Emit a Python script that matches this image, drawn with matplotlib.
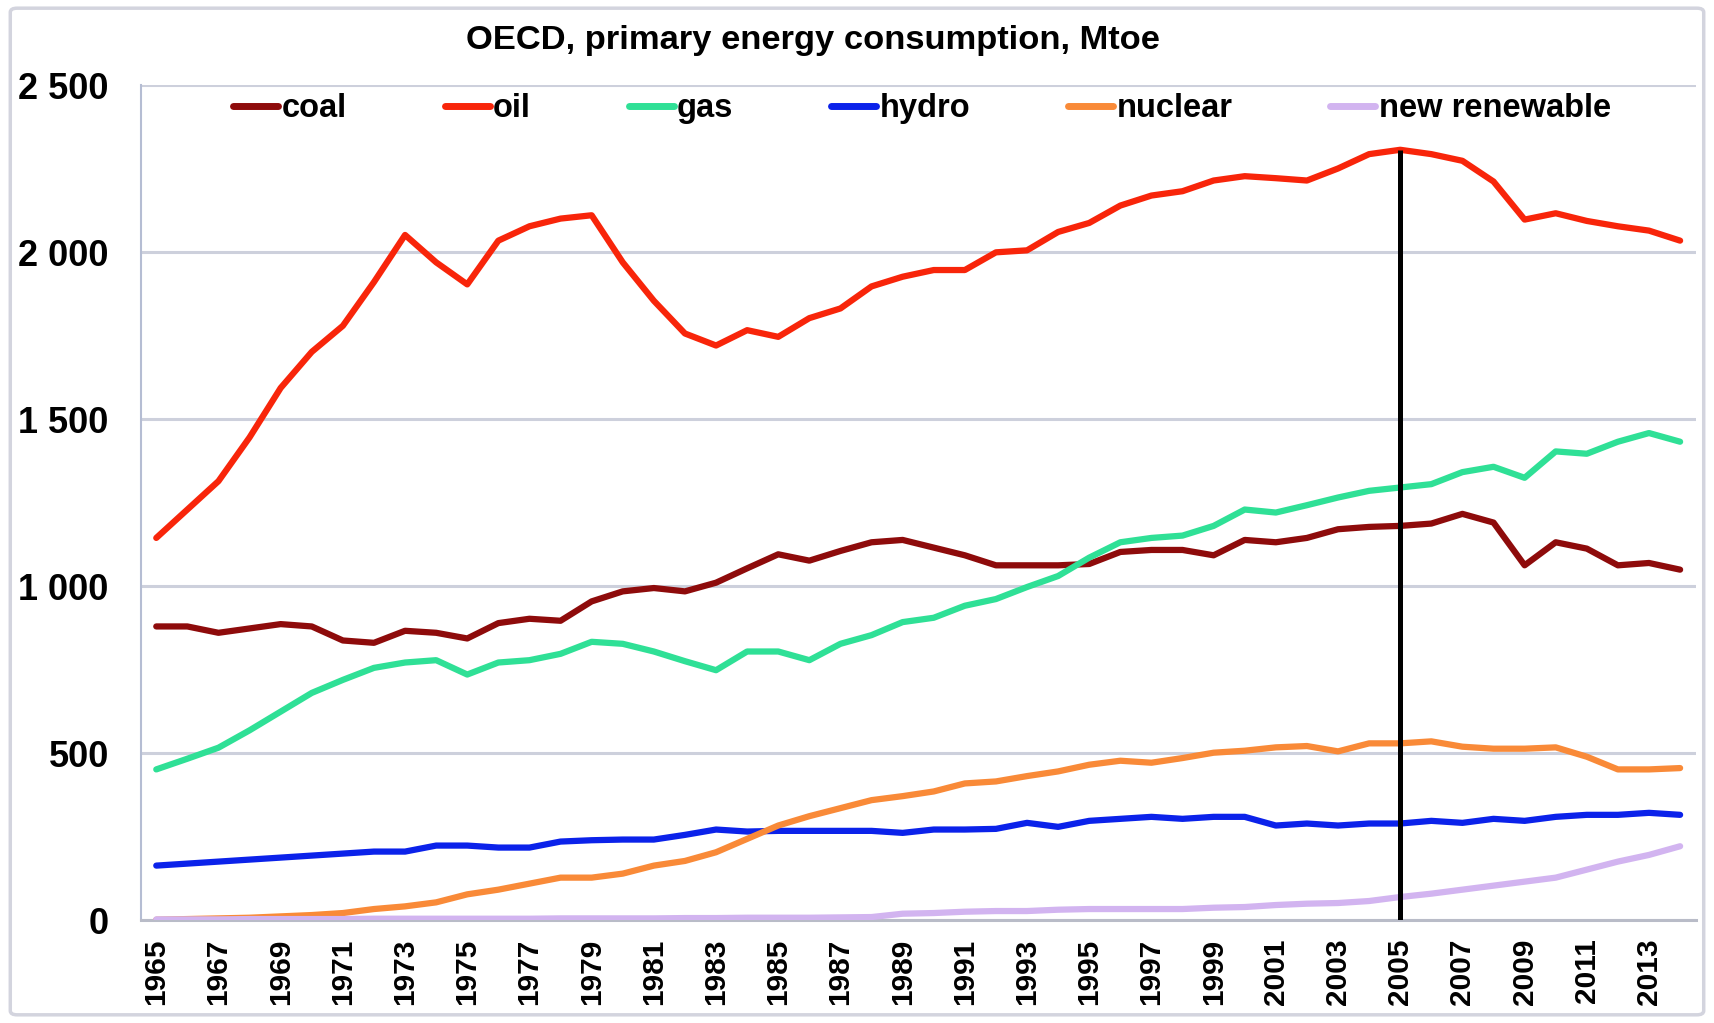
import matplotlib
matplotlib.use("Agg")
import matplotlib.pyplot as plt
from matplotlib.patches import FancyBboxPatch

years = list(range(1965, 2015))

coal = [880, 880, 861, 874, 887, 880, 838, 831, 867, 861,
        844, 890, 903, 897, 955, 985, 995, 985, 1011, 1054,
        1096, 1077, 1106, 1132, 1139, 1116, 1093, 1063, 1063, 1063,
        1067, 1103, 1109, 1109, 1093, 1139, 1132, 1145, 1171, 1178,
        1181, 1188, 1217, 1191, 1063, 1132, 1113, 1063, 1070, 1050]

oil = [1145, 1230, 1315, 1446, 1594, 1702, 1780, 1911, 2052, 1970,
       1904, 2035, 2078, 2101, 2111, 1970, 1855, 1757, 1721, 1767,
       1747, 1803, 1832, 1898, 1927, 1947, 1947, 2000, 2006, 2061,
       2088, 2140, 2170, 2183, 2215, 2228, 2222, 2215, 2251, 2294,
       2307, 2294, 2274, 2212, 2098, 2117, 2094, 2078, 2065, 2035]

gas = [452, 484, 517, 569, 625, 681, 720, 756, 772, 779,
       736, 772, 779, 798, 834, 828, 805, 776, 749, 805,
       805, 779, 828, 854, 893, 906, 942, 962, 998, 1031,
       1086, 1132, 1145, 1152, 1181, 1230, 1221, 1243, 1266, 1286,
       1296, 1306, 1342, 1358, 1325, 1404, 1397, 1433, 1459, 1433]

hydro = [164, 170, 176, 182, 188, 194, 200, 206, 206, 224,
         224, 218, 218, 236, 240, 242, 242, 256, 272, 266,
         268, 268, 268, 268, 262, 272, 272, 274, 292, 280,
         298, 304, 310, 304, 310, 310, 284, 290, 284, 290,
         290, 298, 292, 304, 298, 310, 316, 316, 322, 316]

nuclear = [2, 4, 6, 8, 12, 16, 22, 34, 42, 54,
           78, 92, 110, 128, 128, 140, 164, 178, 204, 244,
           284, 312, 336, 360, 372, 386, 410, 416, 432, 446,
           466, 478, 472, 486, 502, 508, 518, 522, 506, 530,
           530, 536, 520, 514, 514, 518, 490, 452, 452, 456]

new_renewable = [3, 3, 3, 4, 4, 4, 4, 5, 5, 5,
                 5, 5, 5, 6, 6, 6, 6, 7, 7, 8,
                 8, 8, 9, 10, 20, 22, 26, 28, 28, 32,
                 34, 34, 34, 34, 38, 40, 46, 50, 52, 58,
                 70, 80, 92, 104, 116, 128, 152, 176, 196, 222]

series_names = ["coal", "oil", "gas", "hydro", "nuclear", "new renewable"]
series_values = [coal, oil, gas, hydro, nuclear, new_renewable]
series_colors = ["#8E0B0B", "#F8250A", "#2FE096", "#0B22EA", "#F98A38", "#D2B4F0"]

y_ticks = [0, 500, 1000, 1500, 2000, 2500]
y_tick_labels = ["0", "500", "1 000", "1 500", "2 000", "2 500"]
x_tick_years = years[::2]
marker_year = 2005
title = "OECD, primary energy consumption, Mtoe"

plt.rcParams['font.family'] = ['Liberation Sans', 'DejaVu Sans']
plt.rcParams['font.weight'] = 'bold'

fig = plt.figure(figsize=(17.14, 10.23), dpi=100)
fig.patch.set_facecolor("white")

# outer chart frame
frame = FancyBboxPatch((0.006, 0.008), 0.988, 0.984,
                       boxstyle="round,pad=0,rounding_size=0.004",
                       transform=fig.transFigure, facecolor="none",
                       edgecolor="#D3D4DE", linewidth=2.5, zorder=0)
fig.patches.append(frame)

ax = fig.add_axes([0.0821, 0.1003, 0.9072, 0.8163])

for name, vals, col in zip(series_names, series_values, series_colors):
    ax.plot(years, vals, color=col, linewidth=4.5, label=name,
            solid_joinstyle="round", solid_capstyle="round", zorder=3)

# vertical marker line at 2005 up to the oil value
ax.vlines(marker_year, 0, oil[years.index(marker_year)], color="black",
          linewidth=3.6, zorder=4)

ax.set_xlim(1964.5, 2014.5)
ax.set_ylim(0, 2500)
ax.set_yticks(y_ticks)
ax.set_yticklabels(y_tick_labels, fontsize=26, fontweight="bold")
ax.set_xticks(x_tick_years)
ax.set_xticklabels([str(y) for y in x_tick_years], rotation=90,
                   fontsize=21.5, fontweight="bold")
ax.tick_params(axis="y", length=0, pad=23)
ax.tick_params(axis="x", length=0, pad=13)

ax.grid(axis="y", color="#CDD0DC", linewidth=2.2, zorder=1)
ax.set_axisbelow(True)
for s in ["top", "right"]:
    ax.spines[s].set_visible(False)
ax.spines["left"].set_color("#B5BDD3")
ax.spines["left"].set_linewidth(1.5)
ax.spines["bottom"].set_color("#B9BCC8")
ax.spines["bottom"].set_linewidth(2.2)

leg = ax.legend(loc="center", bbox_to_anchor=(0.5025, 0.972), ncol=6,
                frameon=False, fontsize=23.5, handlelength=1.38,
                handletextpad=0.1, columnspacing=3.0, borderaxespad=0,
                borderpad=0)
for t in leg.get_texts():
    t.set_fontweight("bold")
for h in leg.get_lines():
    h.set_linewidth(5)

fig.text(0.4745, 0.960, title, ha="center", va="center",
         fontsize=24.8, fontweight="bold")

fig.savefig("out.png", dpi=100, facecolor="white")
